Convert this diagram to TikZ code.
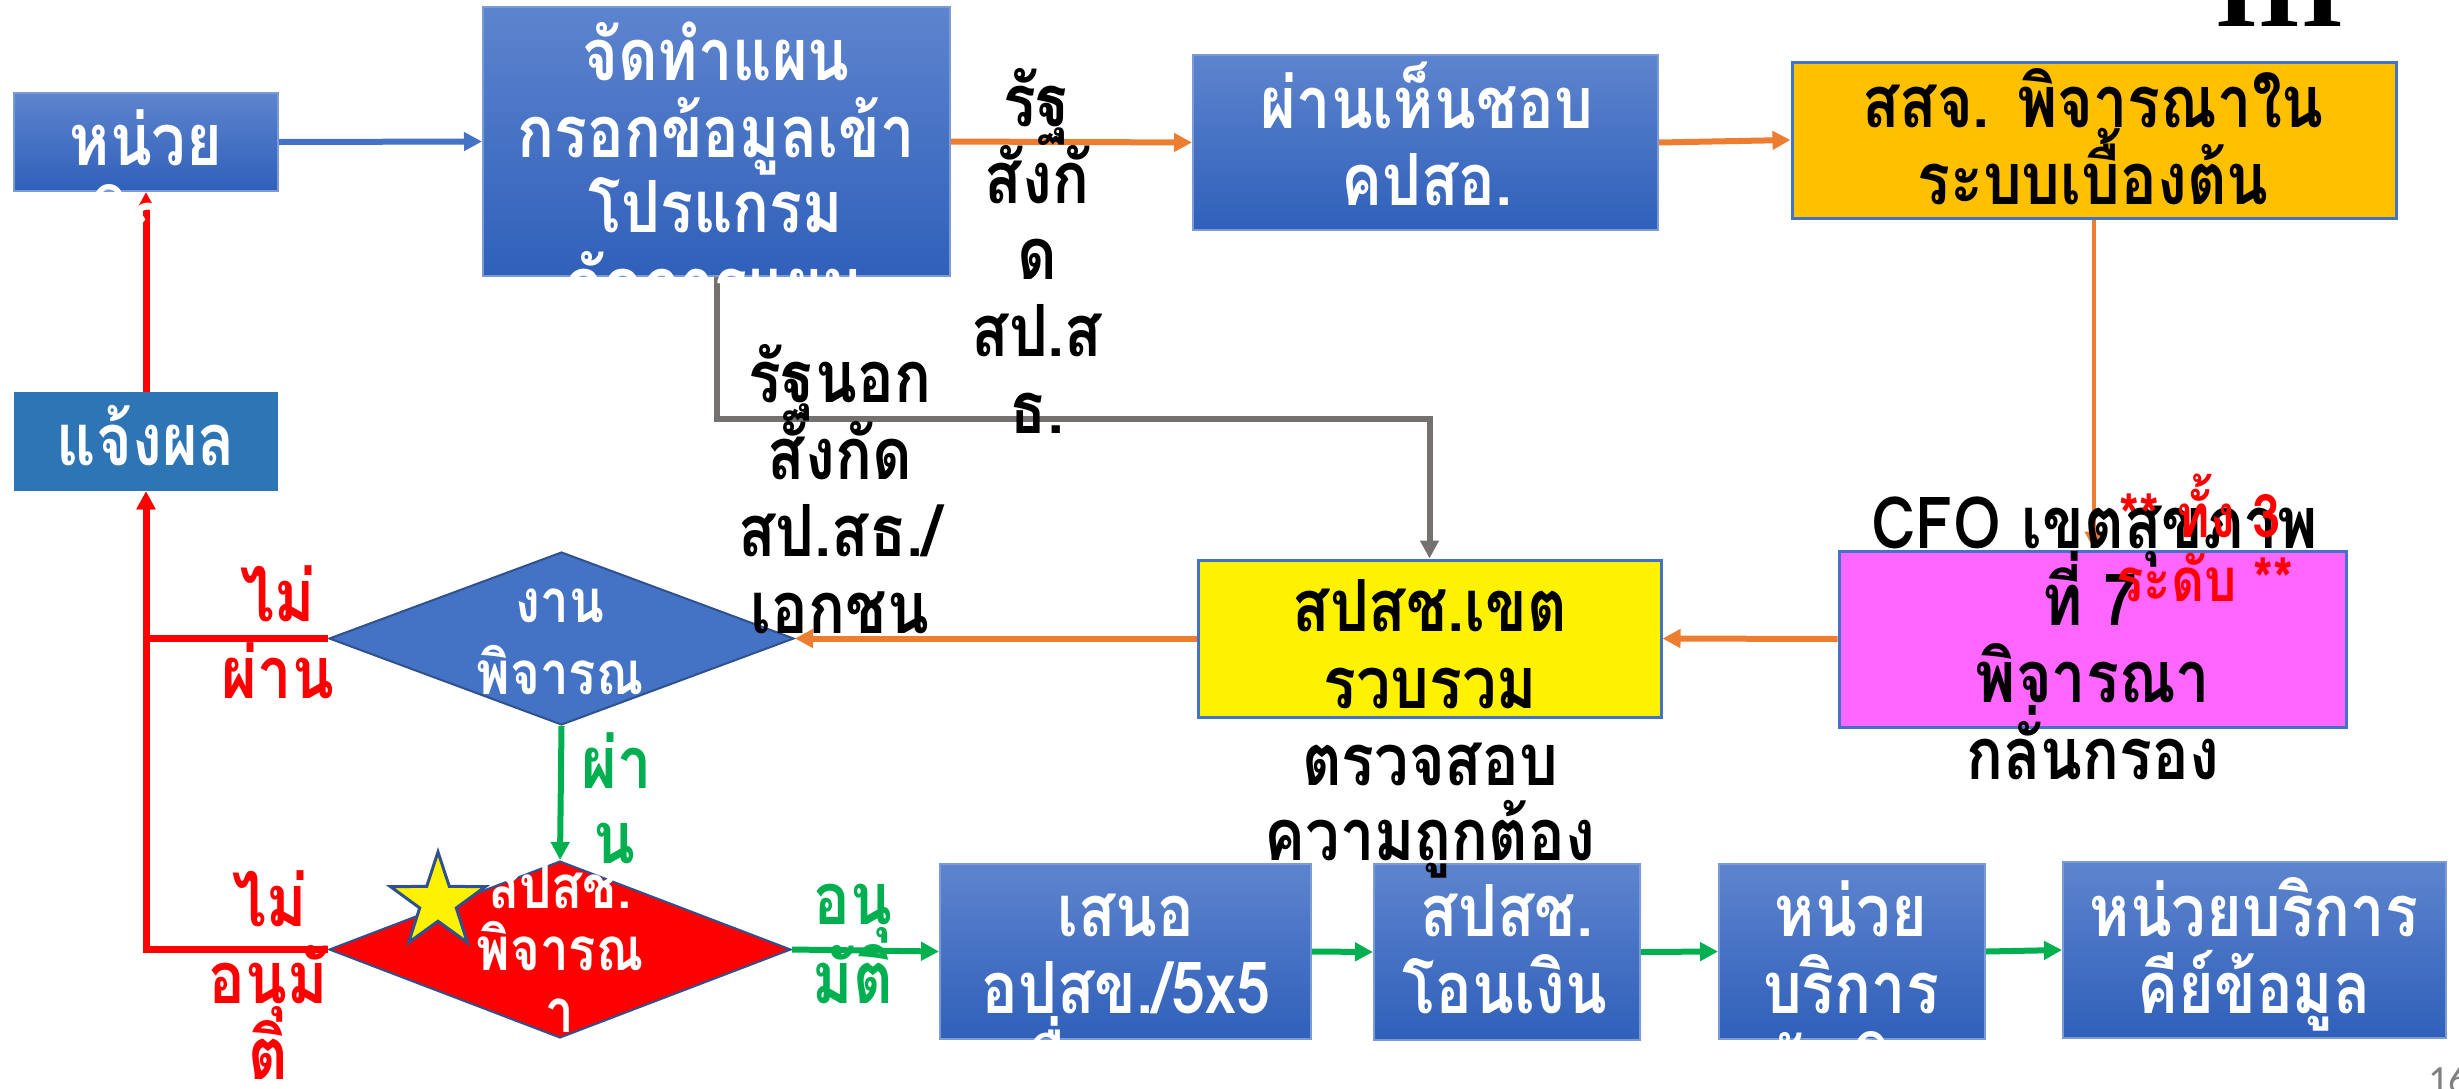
\documentclass[tikz,border=0pt]{standalone}
\usepackage{fontspec}
\usetikzlibrary{arrows.meta,shapes.geometric}
\newfontfamily\thai[Script=Thai,FakeStretch=0.85]{Loma}
\newfontfamily\serifb{Liberation Serif}
\newfontfamily\pagenumfont{Carlito}
\newcommand\thaiN{\thai\bfseries\fontsize{36}{40}\selectfont}
\newcommand\thaiS{\thai\bfseries\fontsize{30}{34}\selectfont}
\definecolor{btop}{HTML}{5D84CE}
\definecolor{bbot}{HTML}{3060BA}
\definecolor{bborder}{HTML}{7A9BD8}
\definecolor{dblue}{HTML}{4472C4}
\definecolor{dborder}{HTML}{2F528F}
\definecolor{steel}{HTML}{2E75B6}
\definecolor{gold}{HTML}{FFC000}
\definecolor{pinkbox}{HTML}{FF66FF}
\definecolor{orangeA}{HTML}{ED7D31}
\definecolor{grayA}{HTML}{767171}
\definecolor{greenA}{HTML}{00B050}
\tikzset{
  x=0.5pt, y=-0.5pt,
  bbox/.style={draw=bborder, line width=1pt, top color=btop, bottom color=bbot, inner sep=0pt},
  cbox/.style={draw=dblue, line width=1.5pt, fill=#1, inner sep=0pt},
  dia/.style={diamond, draw=dborder, line width=1pt, fill=#1, inner sep=0pt},
  wt/.style={text=white, font=\thaiN, inner sep=0pt, anchor=base},
  kt/.style={wt, text=black},
  ws/.style={wt, font=\thaiS},
  rt/.style={wt, text=red},
  gt/.style={wt, text=greenA},
  tip/.style={-{Triangle[length=9pt,width=9pt]}},
  oarr/.style={draw=orangeA, line width=3pt, tip},
  garr/.style={draw=greenA, line width=3pt, tip},
  rarr/.style={draw=red, line width=3.5pt, tip},
}
\begin{document}
\begin{tikzpicture}
\useasboundingbox (0,0) rectangle (2459,1088);
% boxes
\node[bbox, minimum width=132pt, minimum height=49pt] (A) at (146,142) {};
\node[bbox, minimum width=233.5pt, minimum height=134.5pt] (B) at (716.5,141.5) {};
\node[bbox, minimum width=232.5pt, minimum height=87.5pt] (C) at (1425.5,142.5) {};
\node[cbox=gold, minimum width=302pt, minimum height=78pt] (D) at (2094,140) {};
\node[cbox=pinkbox, minimum width=253.5pt, minimum height=88pt] (E) at (2092.5,639) {};
\node[cbox=yellow, minimum width=231.5pt, minimum height=78.5pt] (F) at (1429.5,638.5) {};
\node[dia=dblue, minimum width=232.5pt, minimum height=86.5pt] (G) at (561.5,638.5) {};
\node[dia=red, minimum width=231pt, minimum height=88.5pt] (H) at (560,949.5) {};
\node[fill=steel, inner sep=0pt, minimum width=132pt, minimum height=49.5pt] (I) at (146,441.5) {};
\node[bbox, minimum width=185.5pt, minimum height=87.5pt] (J) at (1125.5,951.5) {};
\node[bbox, minimum width=133pt, minimum height=88pt] (K) at (1507,952) {};
\node[bbox, minimum width=133pt, minimum height=87.5pt] (L) at (1852,951.5) {};
\node[bbox, minimum width=191.5pt, minimum height=88pt] (M) at (2254.5,950) {};
\node[star, star points=5, star point ratio=2.6, minimum size=50pt, inner sep=0pt, fill=yellow, draw=dborder, line width=1.5pt] (S) at (438,902) {};
% connectors
\draw[draw=dblue, line width=3pt, tip] (A.east) -- (B.west);
\draw[oarr] (B.east) -- (C.west);
\draw[oarr] (C.east) -- (D.west);
\draw[oarr, line width=2pt] (D.south) -- (D.south |- E.north);
\draw[oarr] (E.west) -- (F.east);
\draw[oarr] (F.west) -- (G.east);
\draw[draw=grayA, line width=3pt, tip] (B.south) -- ++(0,142) -| (F.north);
\draw[garr] (G.south) -- (H.north);
\draw[rarr] (G.west) -| (I.south);
\draw[rarr] (H.west) -| (I.south);
\draw[rarr] (I.north) -- (A.south);
\draw[garr] (H.east) -- (J.west);
\draw[garr] (J.east) -- (K.west);
\draw[garr] (K.east) -- (L.west);
\draw[garr] (L.east) -- (M.west);
% texts
\node[wt] (a1) at (146,165) {หน่วย};
\node[wt] (a2) at (146,243) {บริการ};
\node[wt] (b1) at (716,80) {จัดทำแผน};
\node[wt] (b2) at (716,157) {กรอกข้อมูลเข้า};
\node[wt] (b3) at (716,232) {โปรแกรม};
\node[wt] (b4) at (716,309) {จัดการแผน};
\node[wt] (c1) at (1427,128) {ผ่านเห็นชอบ};
\node[wt] (c2) at (1427,205) {คปสอ.};
\node[kt] (d1) at (2093,127) {สสจ. พิจารณาใน};
\node[kt] (d2) at (2093,204) {ระบบเบื้องต้น};
\node[kt] (l1) at (1037,126) {รัฐ};
\node[kt] (l2) at (1037,203) {สังกั};
\node[kt] (l3) at (1037,279) {ด};
\node[kt] (l4) at (1037,356) {สป.ส};
\node[kt] (l5) at (1037,433) {ธ.};
\node[kt] (m1) at (840,402) {รัฐนอก};
\node[kt] (m2) at (840,479) {สังกัด};
\node[kt] (m3) at (840,556) {สป.สธ./};
\node[kt] (m4) at (840,633) {เอกชน};
\node[wt] (i1) at (146,465) {แจ้งผล};
\node[ws] (g1) at (560,622) {งาน};
\node[ws] (g2) at (560,694) {พิจารณ};
\node[ws] (h1) at (560,908) {สปสช.};
\node[ws] (h2) at (560,970) {พิจารณ};
\node[ws] (h3) at (560,1032) {า};
\node[kt] (f1) at (1430,631) {สปสช.เขต};
\node[kt] (f2) at (1430,708) {รวบรวม};
\node[kt] (f3) at (1430,785) {ตรวจสอบ};
\node[kt] (f4) at (1430,860) {ความถูกต้อง};
\node[kt] (e1) at (2095,548) {CFO เขตสุขภาพ};
\node[kt] (e2) at (2090,625) {ที่ 7};
\node[kt] (e3) at (2093,702) {พิจารณา};
\node[kt] (e4) at (2093,779) {กลั่นกรอง};
\node[rt, font=\thaiS] (r1) at (2200,537) {** ทั้ง 3};
\node[rt, font=\thaiS] (r2) at (2205,601) {ระดับ **};
\node[gt] (p1) at (617,788) {ผ่า};
\node[gt] (p2) at (614,863) {น};
\node[gt] (q1) at (853,924) {อนุ};
\node[gt] (q2) at (853,1003) {มัติ};
\node[rt] (n1) at (278,621) {ไม่};
\node[rt] (n2) at (278,698) {ผ่าน};
\node[rt] (u1) at (270,926) {ไม่};
\node[rt] (u2) at (268,1003) {อนุมั};
\node[rt] (u3) at (268,1079) {ติ};
\node[wt] (j1) at (1126,936) {เสนอ};
\node[wt] (j2) at (1126,1013) {อปสข./5x5};
\node[wt] (j3) at (1126,1090) {เพื่อทราบ};
\node[wt] (k1) at (1507,936) {สปสช.};
\node[wt] (k2) at (1505,1013) {โอนเงิน};
\node[wt] (x1) at (1851,936) {หน่วย};
\node[wt] (x2) at (1851,1013) {บริการ};
\node[wt] (x3) at (1851,1090) {รับเงิน};
\node[wt] (y1) at (2254,936) {หน่วยบริการ};
\node[wt] (y2) at (2254,1013) {คีย์ข้อมูล};
\node[anchor=base, inner sep=0pt, font=\serifb\bfseries\fontsize{55}{60}\selectfont] (t3) at (2280,26) {III};
\node[anchor=base west, inner sep=0pt, text=gray, font=\pagenumfont\fontsize{20}{22}\selectfont] (pg) at (2428,1093) {16};
\end{tikzpicture}
\end{document}
